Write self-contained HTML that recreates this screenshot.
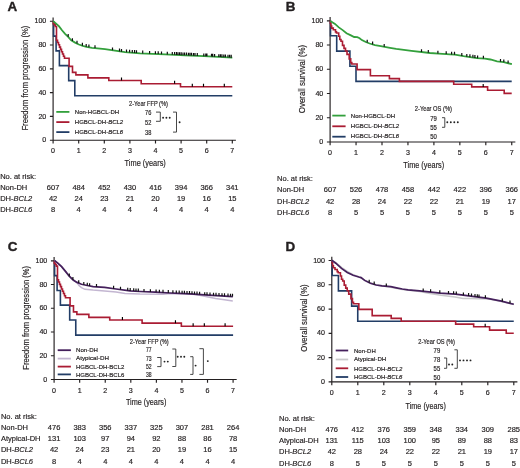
<!DOCTYPE html>
<html><head><meta charset="utf-8"><style>
html,body{margin:0;padding:0;background:#fff;width:520px;height:468px;overflow:hidden}
svg{display:block;will-change:transform}
</style></head><body>
<svg width="520" height="468" viewBox="0 0 520 468" font-family='"Liberation Sans", sans-serif' fill="#231f20" stroke-linejoin="round">
<style>text{stroke:#231f20;stroke-width:0.18px}</style>
<rect width="520" height="468" fill="#fff"/>
<text x="7.60" y="11.00" font-size="13.4" font-weight="bold" style="stroke-width:0.4px">A</text>
<text x="285.80" y="11.00" font-size="13.4" font-weight="bold" style="stroke-width:0.4px">B</text>
<text x="7.80" y="250.50" font-size="13.4" font-weight="bold" style="stroke-width:0.4px">C</text>
<text x="285.60" y="250.60" font-size="13.4" font-weight="bold" style="stroke-width:0.4px">D</text>
<path d="M53.10,17.50V140.20M49.90,140.20H235.90M49.90,140.20H53.10M49.90,116.40H53.10M49.90,92.60H53.10M49.90,68.80H53.10M49.90,45.00H53.10M49.90,21.20H53.10M53.10,140.20V143.50M78.70,140.20V143.50M104.30,140.20V143.50M129.90,140.20V143.50M155.50,140.20V143.50M181.10,140.20V143.50M206.70,140.20V143.50M232.30,140.20V143.50" stroke="#231f20" stroke-width="1.15" fill="none"/>
<text x="46.30" y="142.30" font-size="7.1" text-anchor="end">0</text>
<text x="46.30" y="118.50" font-size="7.1" text-anchor="end">20</text>
<text x="46.30" y="94.70" font-size="7.1" text-anchor="end">40</text>
<text x="46.30" y="70.90" font-size="7.1" text-anchor="end">60</text>
<text x="46.30" y="47.10" font-size="7.1" text-anchor="end">80</text>
<text x="46.30" y="23.30" font-size="7.1" text-anchor="end">100</text>
<text x="53.10" y="152.90" font-size="7.1" text-anchor="middle">0</text>
<text x="78.70" y="152.90" font-size="7.1" text-anchor="middle">1</text>
<text x="104.30" y="152.90" font-size="7.1" text-anchor="middle">2</text>
<text x="129.90" y="152.90" font-size="7.1" text-anchor="middle">3</text>
<text x="155.50" y="152.90" font-size="7.1" text-anchor="middle">4</text>
<text x="181.10" y="152.90" font-size="7.1" text-anchor="middle">5</text>
<text x="206.70" y="152.90" font-size="7.1" text-anchor="middle">6</text>
<text x="232.30" y="152.90" font-size="7.1" text-anchor="middle">7</text>
<path d="M330.10,17.10V142.00M326.90,142.00H515.35M326.90,142.00H330.10M326.90,117.76H330.10M326.90,93.52H330.10M326.90,69.28H330.10M326.90,45.04H330.10M326.90,20.80H330.10M330.10,142.00V145.30M356.05,142.00V145.30M382.00,142.00V145.30M407.95,142.00V145.30M433.90,142.00V145.30M459.85,142.00V145.30M485.80,142.00V145.30M511.75,142.00V145.30" stroke="#231f20" stroke-width="1.15" fill="none"/>
<text x="323.30" y="144.10" font-size="7.1" text-anchor="end">0</text>
<text x="323.30" y="119.86" font-size="7.1" text-anchor="end">20</text>
<text x="323.30" y="95.62" font-size="7.1" text-anchor="end">40</text>
<text x="323.30" y="71.38" font-size="7.1" text-anchor="end">60</text>
<text x="323.30" y="47.14" font-size="7.1" text-anchor="end">80</text>
<text x="323.30" y="22.90" font-size="7.1" text-anchor="end">100</text>
<text x="330.10" y="155.30" font-size="7.1" text-anchor="middle">0</text>
<text x="356.05" y="155.30" font-size="7.1" text-anchor="middle">1</text>
<text x="382.00" y="155.30" font-size="7.1" text-anchor="middle">2</text>
<text x="407.95" y="155.30" font-size="7.1" text-anchor="middle">3</text>
<text x="433.90" y="155.30" font-size="7.1" text-anchor="middle">4</text>
<text x="459.85" y="155.30" font-size="7.1" text-anchor="middle">5</text>
<text x="485.80" y="155.30" font-size="7.1" text-anchor="middle">6</text>
<text x="511.75" y="155.30" font-size="7.1" text-anchor="middle">7</text>
<path d="M54.10,257.10V379.50M50.90,379.50H236.69M50.90,379.50H54.10M50.90,355.76H54.10M50.90,332.02H54.10M50.90,308.28H54.10M50.90,284.54H54.10M50.90,260.80H54.10M54.10,379.50V382.80M79.67,379.50V382.80M105.24,379.50V382.80M130.81,379.50V382.80M156.38,379.50V382.80M181.95,379.50V382.80M207.52,379.50V382.80M233.09,379.50V382.80" stroke="#231f20" stroke-width="1.15" fill="none"/>
<text x="47.30" y="381.60" font-size="7.1" text-anchor="end">0</text>
<text x="47.30" y="357.86" font-size="7.1" text-anchor="end">20</text>
<text x="47.30" y="334.12" font-size="7.1" text-anchor="end">40</text>
<text x="47.30" y="310.38" font-size="7.1" text-anchor="end">60</text>
<text x="47.30" y="286.64" font-size="7.1" text-anchor="end">80</text>
<text x="47.30" y="262.90" font-size="7.1" text-anchor="end">100</text>
<text x="54.10" y="392.50" font-size="7.1" text-anchor="middle">0</text>
<text x="79.67" y="392.50" font-size="7.1" text-anchor="middle">1</text>
<text x="105.24" y="392.50" font-size="7.1" text-anchor="middle">2</text>
<text x="130.81" y="392.50" font-size="7.1" text-anchor="middle">3</text>
<text x="156.38" y="392.50" font-size="7.1" text-anchor="middle">4</text>
<text x="181.95" y="392.50" font-size="7.1" text-anchor="middle">5</text>
<text x="207.52" y="392.50" font-size="7.1" text-anchor="middle">6</text>
<text x="233.09" y="392.50" font-size="7.1" text-anchor="middle">7</text>
<path d="M331.80,256.80V381.90M328.60,381.90H517.40M328.60,381.90H331.80M328.60,357.62H331.80M328.60,333.34H331.80M328.60,309.06H331.80M328.60,284.78H331.80M328.60,260.50H331.80M331.80,381.90V385.20M357.80,381.90V385.20M383.80,381.90V385.20M409.80,381.90V385.20M435.80,381.90V385.20M461.80,381.90V385.20M487.80,381.90V385.20M513.80,381.90V385.20" stroke="#231f20" stroke-width="1.15" fill="none"/>
<text x="325.00" y="384.00" font-size="7.1" text-anchor="end">0</text>
<text x="325.00" y="359.72" font-size="7.1" text-anchor="end">20</text>
<text x="325.00" y="335.44" font-size="7.1" text-anchor="end">40</text>
<text x="325.00" y="311.16" font-size="7.1" text-anchor="end">60</text>
<text x="325.00" y="286.88" font-size="7.1" text-anchor="end">80</text>
<text x="325.00" y="262.60" font-size="7.1" text-anchor="end">100</text>
<text x="331.80" y="395.30" font-size="7.1" text-anchor="middle">0</text>
<text x="357.80" y="395.30" font-size="7.1" text-anchor="middle">1</text>
<text x="383.80" y="395.30" font-size="7.1" text-anchor="middle">2</text>
<text x="409.80" y="395.30" font-size="7.1" text-anchor="middle">3</text>
<text x="435.80" y="395.30" font-size="7.1" text-anchor="middle">4</text>
<text x="461.80" y="395.30" font-size="7.1" text-anchor="middle">5</text>
<text x="487.80" y="395.30" font-size="7.1" text-anchor="middle">6</text>
<text x="513.80" y="395.30" font-size="7.1" text-anchor="middle">7</text>
<text transform="translate(27.9,78.1) rotate(-90)" x="0" y="0" font-size="8.6" text-anchor="middle" textLength="105" lengthAdjust="spacingAndGlyphs">Freedom from progression (%)</text>
<text transform="translate(305.2,79.0) rotate(-90)" x="0" y="0" font-size="8.6" text-anchor="middle" textLength="68.3" lengthAdjust="spacingAndGlyphs">Overall survival (%)</text>
<text transform="translate(28.9,317.8) rotate(-90)" x="0" y="0" font-size="8.6" text-anchor="middle" textLength="103.8" lengthAdjust="spacingAndGlyphs">Freedom from progression (%)</text>
<text transform="translate(307.2,318.0) rotate(-90)" x="0" y="0" font-size="8.6" text-anchor="middle" textLength="67.3" lengthAdjust="spacingAndGlyphs">Overall survival (%)</text>
<text x="124.60" y="166.20" font-size="8.8" textLength="41.2" lengthAdjust="spacingAndGlyphs">Time (years)</text>
<text x="403.30" y="168.00" font-size="8.8" textLength="40.9" lengthAdjust="spacingAndGlyphs">Time (years)</text>
<text x="125.90" y="405.30" font-size="8.8" textLength="40.5" lengthAdjust="spacingAndGlyphs">Time (years)</text>
<text x="405.60" y="408.50" font-size="8.8" textLength="40.3" lengthAdjust="spacingAndGlyphs">Time (years)</text>
<text x="0.20" y="178.80" font-size="7.5">No. at risk:</text>
<text x="0.20" y="190.00" font-size="7.5">Non-DH</text>
<text x="53.10" y="190.00" font-size="7.5" text-anchor="middle">607</text>
<text x="78.70" y="190.00" font-size="7.5" text-anchor="middle">484</text>
<text x="104.30" y="190.00" font-size="7.5" text-anchor="middle">452</text>
<text x="129.90" y="190.00" font-size="7.5" text-anchor="middle">430</text>
<text x="155.50" y="190.00" font-size="7.5" text-anchor="middle">416</text>
<text x="181.10" y="190.00" font-size="7.5" text-anchor="middle">394</text>
<text x="206.70" y="190.00" font-size="7.5" text-anchor="middle">366</text>
<text x="232.30" y="190.00" font-size="7.5" text-anchor="middle">341</text>
<text x="0.20" y="201.20" font-size="7.5">DH-<tspan font-style="italic">BCL2</tspan></text>
<text x="53.10" y="201.20" font-size="7.5" text-anchor="middle">42</text>
<text x="78.70" y="201.20" font-size="7.5" text-anchor="middle">24</text>
<text x="104.30" y="201.20" font-size="7.5" text-anchor="middle">23</text>
<text x="129.90" y="201.20" font-size="7.5" text-anchor="middle">21</text>
<text x="155.50" y="201.20" font-size="7.5" text-anchor="middle">20</text>
<text x="181.10" y="201.20" font-size="7.5" text-anchor="middle">19</text>
<text x="206.70" y="201.20" font-size="7.5" text-anchor="middle">16</text>
<text x="232.30" y="201.20" font-size="7.5" text-anchor="middle">15</text>
<text x="0.20" y="212.40" font-size="7.5">DH-<tspan font-style="italic">BCL6</tspan></text>
<text x="53.10" y="212.40" font-size="7.5" text-anchor="middle">8</text>
<text x="78.70" y="212.40" font-size="7.5" text-anchor="middle">4</text>
<text x="104.30" y="212.40" font-size="7.5" text-anchor="middle">4</text>
<text x="129.90" y="212.40" font-size="7.5" text-anchor="middle">4</text>
<text x="155.50" y="212.40" font-size="7.5" text-anchor="middle">4</text>
<text x="181.10" y="212.40" font-size="7.5" text-anchor="middle">4</text>
<text x="206.70" y="212.40" font-size="7.5" text-anchor="middle">4</text>
<text x="232.30" y="212.40" font-size="7.5" text-anchor="middle">4</text>
<text x="277.10" y="180.90" font-size="7.5">No. at risk:</text>
<text x="277.10" y="192.20" font-size="7.5">Non-DH</text>
<text x="330.10" y="192.20" font-size="7.5" text-anchor="middle">607</text>
<text x="356.05" y="192.20" font-size="7.5" text-anchor="middle">526</text>
<text x="382.00" y="192.20" font-size="7.5" text-anchor="middle">478</text>
<text x="407.95" y="192.20" font-size="7.5" text-anchor="middle">458</text>
<text x="433.90" y="192.20" font-size="7.5" text-anchor="middle">442</text>
<text x="459.85" y="192.20" font-size="7.5" text-anchor="middle">422</text>
<text x="485.80" y="192.20" font-size="7.5" text-anchor="middle">396</text>
<text x="511.75" y="192.20" font-size="7.5" text-anchor="middle">366</text>
<text x="277.10" y="203.50" font-size="7.5">DH-<tspan font-style="italic">BCL2</tspan></text>
<text x="330.10" y="203.50" font-size="7.5" text-anchor="middle">42</text>
<text x="356.05" y="203.50" font-size="7.5" text-anchor="middle">28</text>
<text x="382.00" y="203.50" font-size="7.5" text-anchor="middle">24</text>
<text x="407.95" y="203.50" font-size="7.5" text-anchor="middle">22</text>
<text x="433.90" y="203.50" font-size="7.5" text-anchor="middle">22</text>
<text x="459.85" y="203.50" font-size="7.5" text-anchor="middle">21</text>
<text x="485.80" y="203.50" font-size="7.5" text-anchor="middle">19</text>
<text x="511.75" y="203.50" font-size="7.5" text-anchor="middle">17</text>
<text x="277.10" y="214.80" font-size="7.5">DH-<tspan font-style="italic">BCL6</tspan></text>
<text x="330.10" y="214.80" font-size="7.5" text-anchor="middle">8</text>
<text x="356.05" y="214.80" font-size="7.5" text-anchor="middle">5</text>
<text x="382.00" y="214.80" font-size="7.5" text-anchor="middle">5</text>
<text x="407.95" y="214.80" font-size="7.5" text-anchor="middle">5</text>
<text x="433.90" y="214.80" font-size="7.5" text-anchor="middle">5</text>
<text x="459.85" y="214.80" font-size="7.5" text-anchor="middle">5</text>
<text x="485.80" y="214.80" font-size="7.5" text-anchor="middle">5</text>
<text x="511.75" y="214.80" font-size="7.5" text-anchor="middle">5</text>
<text x="0.90" y="418.50" font-size="7.5">No. at risk:</text>
<text x="0.90" y="429.80" font-size="7.5">Non-DH</text>
<text x="54.10" y="429.80" font-size="7.5" text-anchor="middle">476</text>
<text x="79.67" y="429.80" font-size="7.5" text-anchor="middle">383</text>
<text x="105.24" y="429.80" font-size="7.5" text-anchor="middle">356</text>
<text x="130.81" y="429.80" font-size="7.5" text-anchor="middle">337</text>
<text x="156.38" y="429.80" font-size="7.5" text-anchor="middle">325</text>
<text x="181.95" y="429.80" font-size="7.5" text-anchor="middle">307</text>
<text x="207.52" y="429.80" font-size="7.5" text-anchor="middle">281</text>
<text x="233.09" y="429.80" font-size="7.5" text-anchor="middle">264</text>
<text x="0.90" y="441.10" font-size="7.5">Atypical-DH</text>
<text x="54.10" y="441.10" font-size="7.5" text-anchor="middle">131</text>
<text x="79.67" y="441.10" font-size="7.5" text-anchor="middle">103</text>
<text x="105.24" y="441.10" font-size="7.5" text-anchor="middle">97</text>
<text x="130.81" y="441.10" font-size="7.5" text-anchor="middle">94</text>
<text x="156.38" y="441.10" font-size="7.5" text-anchor="middle">92</text>
<text x="181.95" y="441.10" font-size="7.5" text-anchor="middle">88</text>
<text x="207.52" y="441.10" font-size="7.5" text-anchor="middle">86</text>
<text x="233.09" y="441.10" font-size="7.5" text-anchor="middle">78</text>
<text x="0.90" y="452.30" font-size="7.5">DH-<tspan font-style="italic">BCL2</tspan></text>
<text x="54.10" y="452.30" font-size="7.5" text-anchor="middle">42</text>
<text x="79.67" y="452.30" font-size="7.5" text-anchor="middle">24</text>
<text x="105.24" y="452.30" font-size="7.5" text-anchor="middle">23</text>
<text x="130.81" y="452.30" font-size="7.5" text-anchor="middle">21</text>
<text x="156.38" y="452.30" font-size="7.5" text-anchor="middle">20</text>
<text x="181.95" y="452.30" font-size="7.5" text-anchor="middle">19</text>
<text x="207.52" y="452.30" font-size="7.5" text-anchor="middle">16</text>
<text x="233.09" y="452.30" font-size="7.5" text-anchor="middle">15</text>
<text x="0.90" y="463.60" font-size="7.5">DH-<tspan font-style="italic">BCL6</tspan></text>
<text x="54.10" y="463.60" font-size="7.5" text-anchor="middle">8</text>
<text x="79.67" y="463.60" font-size="7.5" text-anchor="middle">4</text>
<text x="105.24" y="463.60" font-size="7.5" text-anchor="middle">4</text>
<text x="130.81" y="463.60" font-size="7.5" text-anchor="middle">4</text>
<text x="156.38" y="463.60" font-size="7.5" text-anchor="middle">4</text>
<text x="181.95" y="463.60" font-size="7.5" text-anchor="middle">4</text>
<text x="207.52" y="463.60" font-size="7.5" text-anchor="middle">4</text>
<text x="233.09" y="463.60" font-size="7.5" text-anchor="middle">4</text>
<text x="279.00" y="421.00" font-size="7.5">No. at risk:</text>
<text x="279.00" y="432.20" font-size="7.5">Non-DH</text>
<text x="331.80" y="432.20" font-size="7.5" text-anchor="middle">476</text>
<text x="357.80" y="432.20" font-size="7.5" text-anchor="middle">412</text>
<text x="383.80" y="432.20" font-size="7.5" text-anchor="middle">376</text>
<text x="409.80" y="432.20" font-size="7.5" text-anchor="middle">359</text>
<text x="435.80" y="432.20" font-size="7.5" text-anchor="middle">348</text>
<text x="461.80" y="432.20" font-size="7.5" text-anchor="middle">334</text>
<text x="487.80" y="432.20" font-size="7.5" text-anchor="middle">309</text>
<text x="513.80" y="432.20" font-size="7.5" text-anchor="middle">285</text>
<text x="279.00" y="443.10" font-size="7.5">Atypical-DH</text>
<text x="331.80" y="443.10" font-size="7.5" text-anchor="middle">131</text>
<text x="357.80" y="443.10" font-size="7.5" text-anchor="middle">115</text>
<text x="383.80" y="443.10" font-size="7.5" text-anchor="middle">103</text>
<text x="409.80" y="443.10" font-size="7.5" text-anchor="middle">100</text>
<text x="435.80" y="443.10" font-size="7.5" text-anchor="middle">95</text>
<text x="461.80" y="443.10" font-size="7.5" text-anchor="middle">89</text>
<text x="487.80" y="443.10" font-size="7.5" text-anchor="middle">88</text>
<text x="513.80" y="443.10" font-size="7.5" text-anchor="middle">83</text>
<text x="279.00" y="454.30" font-size="7.5">DH-<tspan font-style="italic">BCL2</tspan></text>
<text x="331.80" y="454.30" font-size="7.5" text-anchor="middle">42</text>
<text x="357.80" y="454.30" font-size="7.5" text-anchor="middle">28</text>
<text x="383.80" y="454.30" font-size="7.5" text-anchor="middle">24</text>
<text x="409.80" y="454.30" font-size="7.5" text-anchor="middle">22</text>
<text x="435.80" y="454.30" font-size="7.5" text-anchor="middle">22</text>
<text x="461.80" y="454.30" font-size="7.5" text-anchor="middle">21</text>
<text x="487.80" y="454.30" font-size="7.5" text-anchor="middle">19</text>
<text x="513.80" y="454.30" font-size="7.5" text-anchor="middle">17</text>
<text x="279.00" y="465.70" font-size="7.5">DH-<tspan font-style="italic">BCL6</tspan></text>
<text x="331.80" y="465.70" font-size="7.5" text-anchor="middle">8</text>
<text x="357.80" y="465.70" font-size="7.5" text-anchor="middle">5</text>
<text x="383.80" y="465.70" font-size="7.5" text-anchor="middle">5</text>
<text x="409.80" y="465.70" font-size="7.5" text-anchor="middle">5</text>
<text x="435.80" y="465.70" font-size="7.5" text-anchor="middle">5</text>
<text x="461.80" y="465.70" font-size="7.5" text-anchor="middle">5</text>
<text x="487.80" y="465.70" font-size="7.5" text-anchor="middle">5</text>
<text x="513.80" y="465.70" font-size="7.5" text-anchor="middle">5</text>
<path d="M53.60,21.20L53.60,36.10L56.10,36.10L56.10,50.90L59.40,50.90L59.40,65.60L68.70,65.60L68.70,80.60L74.80,80.60L74.80,95.70L232.30,95.70" stroke="#223d66" stroke-width="1.6" fill="none" stroke-linejoin="miter" stroke-linecap="butt"/>
<path d="M53.30,21.20L53.30,23.60L54.30,23.60L54.30,24.90L55.30,24.90L55.30,26.50L56.50,26.50L56.50,40.20L57.50,40.20L57.50,42.50L58.50,42.50L58.50,44.80L59.50,44.80L59.50,47.10L60.50,47.10L60.50,49.40L61.50,49.40L61.50,51.70L62.50,51.70L62.50,54.00L63.50,54.00L63.50,56.20L64.50,56.20L64.50,58.20L69.10,58.20L69.10,66.40L72.50,66.40L72.50,72.40L75.90,72.40L75.90,74.90L87.90,74.90L87.90,77.90L108.80,77.90L108.80,80.50L141.20,80.50L141.20,83.70L180.50,83.70L180.50,86.80L232.30,86.80" stroke="#aa1c33" stroke-width="1.6" fill="none" stroke-linejoin="miter" stroke-linecap="butt"/>
<path d="M121.50,80.50V77.50M174.60,83.70V80.70M192.30,86.80V83.80M203.50,86.80V83.80M224.30,86.80V83.80" stroke="#000" stroke-width="1.15" fill="none"/>
<path d="M53.20,21.10L55.80,23.40L58.90,26.10L62.00,30.30L65.10,33.80L68.20,36.80L71.20,40.30L75.10,42.60L78.90,44.50L82.80,45.80L86.60,46.80L92.00,47.80L95.00,48.10L105.00,49.20L115.00,50.70L125.00,52.20L140.00,53.30L165.00,54.40L185.00,55.30L204.00,56.20L232.30,57.70" stroke="#33a03c" stroke-width="1.8" fill="none" stroke-linejoin="miter" stroke-linecap="butt"/>
<path d="M68.20,36.80V34.00M72.40,41.01V38.21M77.00,43.55V40.75M82.40,45.67V42.87M86.20,46.69V43.89M88.90,47.23V44.43M95.00,48.10V45.30M112.50,50.33V47.53M119.50,51.38V48.58M121.50,51.68V48.88M126.50,52.31V49.51M129.60,52.54V49.74M132.30,52.74V49.94M134.60,52.90V50.10M136.50,53.04V50.24M142.70,53.42V50.62M149.60,53.72V50.92M155.40,53.98V51.18M158.20,54.10V51.30M161.50,54.25V51.45M167.30,54.50V51.70M172.30,54.73V51.93M174.60,54.83V52.03M176.50,54.92V52.12M178.00,54.98V52.19M179.60,55.06V52.26M181.20,55.13V52.33M183.00,55.21V52.41M184.60,55.28V52.48M186.50,55.37V52.57M188.50,55.47V52.67M190.00,55.54V52.74M191.50,55.61V52.81M193.50,55.70V52.90M195.00,55.77V52.97M197.30,55.88V53.08M203.80,56.19V53.39M205.80,56.30V53.50M206.90,56.35V53.55M211.50,56.60V53.80M212.70,56.66V53.86M214.60,56.76V53.96M218.80,56.98V54.18M220.40,57.07V54.27M221.90,57.15V54.35M223.80,57.25V54.45M225.40,57.33V54.53M228.00,57.47V54.67M229.60,57.56V54.76M231.20,57.64V54.84" stroke="#111" stroke-width="1.2" fill="none"/>
<path d="M330.50,20.80L330.50,35.80L336.70,35.80L336.70,51.10L349.90,51.10L349.90,66.30L356.00,66.30L356.00,81.40L511.70,81.40" stroke="#223d66" stroke-width="1.6" fill="none" stroke-linejoin="miter" stroke-linecap="butt"/>
<path d="M330.40,20.80L330.40,23.20L330.90,23.20L330.90,26.00L331.70,26.00L331.70,28.10L333.30,28.10L333.30,29.80L335.50,29.80L335.50,31.90L336.50,31.90L336.50,33.00L338.70,33.00L338.70,36.20L339.80,36.20L339.80,39.50L341.00,39.50L341.00,41.30L342.50,41.30L342.50,45.40L344.00,45.40L344.00,48.40L345.50,48.40L345.50,51.00L347.00,51.00L347.00,54.40L349.20,54.40L349.20,58.90L350.70,58.90L350.70,62.60L351.80,62.60L351.80,64.00L352.90,64.00L357.10,64.00L357.10,69.60L370.40,69.60L370.40,75.80L389.40,75.80L389.40,78.60L399.40,78.60L399.40,81.40L453.70,81.40L453.70,84.30L471.70,84.30L471.70,86.90L487.60,86.90L487.60,90.30L504.20,90.30L504.20,93.40L511.70,93.40" stroke="#aa1c33" stroke-width="1.6" fill="none" stroke-linejoin="miter" stroke-linecap="butt"/>
<path d="M483.20,86.90V83.90" stroke="#000" stroke-width="1.15" fill="none"/>
<path d="M330.30,20.90L335.00,23.90L338.80,27.40L342.70,30.10L346.50,33.20L350.40,35.10L354.20,37.00L357.30,37.20L359.60,38.20L361.90,40.10L365.80,42.00L369.60,43.50L375.00,45.10L380.80,46.20L390.00,47.80L396.20,48.80L411.50,50.80L430.00,53.00L438.80,53.60L450.00,54.30L455.00,54.70L463.50,56.20L476.90,58.20L485.00,58.60L490.40,59.50L497.10,61.30L503.80,62.20L511.90,64.20" stroke="#33a03c" stroke-width="1.8" fill="none" stroke-linejoin="miter" stroke-linecap="butt"/>
<path d="M367.20,42.55V39.75M372.60,44.39V41.59M384.20,46.79V43.99M421.50,51.99V49.19M428.30,52.80V50.00M437.90,53.54V50.74M446.20,54.06V51.26M451.60,54.43V51.63M454.50,54.66V51.86M461.80,55.90V53.10M466.80,56.69V53.89M469.90,57.16V54.36M472.90,57.60V54.80M474.90,57.90V55.10M477.60,58.23V55.43M483.40,58.52V55.72M500.50,61.76V58.96M503.80,62.20V59.40M508.10,63.26V60.46" stroke="#111" stroke-width="1.2" fill="none"/>
<path d="M54.60,260.80L54.60,275.66L57.10,275.66L57.10,290.43L60.39,290.43L60.39,305.09L69.68,305.09L69.68,320.05L75.77,320.05L75.77,335.11L233.09,335.11" stroke="#223d66" stroke-width="1.6" fill="none" stroke-linejoin="miter" stroke-linecap="butt"/>
<path d="M54.30,260.80L54.30,263.19L55.30,263.19L55.30,264.49L56.30,264.49L56.30,266.09L57.50,266.09L57.50,279.75L58.49,279.75L58.49,282.05L59.49,282.05L59.49,284.34L60.49,284.34L60.49,286.63L61.49,286.63L61.49,288.93L62.49,288.93L62.49,291.22L63.49,291.22L63.49,293.52L64.49,293.52L64.49,295.71L65.49,295.71L65.49,297.71L70.08,297.71L70.08,305.89L73.48,305.89L73.48,311.87L76.87,311.87L76.87,314.36L88.86,314.36L88.86,317.36L109.73,317.36L109.73,319.95L142.10,319.95L142.10,323.14L181.35,323.14L181.35,326.23L233.09,326.23" stroke="#aa1c33" stroke-width="1.6" fill="none" stroke-linejoin="miter" stroke-linecap="butt"/>
<path d="M122.42,319.95V316.95M175.46,323.14V320.14M193.14,326.23V323.23M204.32,326.23V323.23M225.10,326.23V323.23" stroke="#000" stroke-width="1.15" fill="none"/>
<path d="M54.40,260.30L57.80,263.20L61.60,266.60L65.50,271.40L69.30,276.20L73.20,280.00L77.00,282.60L79.00,285.60L81.50,287.60L85.00,289.30L93.10,290.10L104.60,290.90L116.10,292.10L125.00,293.40L140.00,294.10L163.00,294.20L170.00,293.50L185.00,293.80L195.00,294.40L201.00,295.40L208.30,297.00L215.50,298.50L222.70,299.50L232.80,300.90" stroke="#c3b6d1" stroke-width="1.5" fill="none" stroke-linejoin="miter" stroke-linecap="butt"/>
<path d="M54.40,260.30L57.80,263.20L61.60,266.60L65.50,271.40L69.30,276.20L73.20,280.00L77.00,282.40L81.50,284.30L87.30,285.50L93.10,286.60L104.60,287.40L116.10,289.00L130.00,290.90L140.00,291.50L155.00,292.20L170.00,293.00L185.00,293.60L193.90,294.20L208.30,295.20L232.80,296.60" stroke="#45205c" stroke-width="1.7" fill="none" stroke-linejoin="miter" stroke-linecap="butt"/>
<path d="M69.30,276.20V273.40M72.90,279.71V276.91M78.70,283.12V280.32M83.80,284.78V281.98M87.30,285.50V282.70M89.60,285.94V283.14M96.50,286.84V284.04M113.60,288.65V285.85M120.50,289.60V286.80M127.70,290.59V287.79M130.20,290.91V288.11M133.70,291.12V288.32M136.00,291.26V288.46M138.30,291.40V288.60M144.00,291.69V288.89M150.40,291.99V289.19M156.10,292.26V289.46M159.40,292.43V289.63M163.00,292.63V289.83M168.30,292.91V290.11M172.90,293.12V290.32M176.30,293.25V290.45M179.20,293.37V290.57M182.10,293.48V290.68M184.40,293.58V290.78M187.00,293.73V290.93M189.50,293.90V291.10M192.00,294.07V291.27M194.50,294.24V291.44M197.00,294.42V291.62M199.60,294.60V291.80M204.70,294.95V292.15M207.00,295.11V292.31M210.00,295.30V292.50M213.50,295.50V292.70M216.00,295.64V292.84M219.00,295.81V293.01M222.00,295.98V293.18M224.50,296.13V293.33M228.00,296.33V293.53M230.50,296.47V293.67M232.50,296.58V293.78" stroke="#111" stroke-width="1.2" fill="none"/>
<path d="M332.20,260.50L332.20,275.52L338.41,275.52L338.41,290.85L351.64,290.85L351.64,306.08L357.75,306.08L357.75,321.20L513.75,321.20" stroke="#223d66" stroke-width="1.6" fill="none" stroke-linejoin="miter" stroke-linecap="butt"/>
<path d="M332.10,260.50L332.10,262.90L332.60,262.90L332.60,265.71L333.40,265.71L333.40,267.81L335.01,267.81L335.01,269.51L337.21,269.51L337.21,271.62L338.21,271.62L338.21,272.72L340.42,272.72L340.42,275.93L341.52,275.93L341.52,279.23L342.72,279.23L342.72,281.03L344.22,281.03L344.22,285.14L345.73,285.14L345.73,288.15L347.23,288.15L347.23,290.75L348.73,290.75L348.73,294.16L350.94,294.16L350.94,298.66L352.44,298.66L352.44,302.37L353.54,302.37L353.54,303.77L354.64,303.77L358.85,303.77L358.85,309.38L372.18,309.38L372.18,315.59L391.21,315.59L391.21,318.40L401.23,318.40L401.23,321.20L455.64,321.20L455.64,324.10L473.67,324.10L473.67,326.71L489.60,326.71L489.60,330.11L506.24,330.11L506.24,333.22L513.75,333.22" stroke="#aa1c33" stroke-width="1.6" fill="none" stroke-linejoin="miter" stroke-linecap="butt"/>
<path d="M485.19,326.71V323.71" stroke="#000" stroke-width="1.15" fill="none"/>
<path d="M331.80,260.30L335.80,262.60L341.50,267.30L347.30,271.30L353.10,274.60L358.80,276.80L364.60,279.90L370.40,282.80L376.10,284.80L390.80,287.20L402.30,289.60L419.60,291.60L430.00,293.40L441.00,295.30L455.00,297.00L463.00,298.40L470.00,298.60L478.00,298.80L489.00,299.00L501.50,301.40L513.80,304.50" stroke="#c9c9cb" stroke-width="1.5" fill="none" stroke-linejoin="miter" stroke-linecap="butt"/>
<path d="M331.80,260.30L335.80,263.20L341.50,268.40L347.30,272.40L353.10,275.30L358.80,277.00L361.10,277.60L364.60,280.40L370.40,283.20L376.10,285.00L381.90,285.90L385.00,286.20L390.80,286.70L396.50,287.80L402.30,289.00L408.10,289.80L419.60,290.90L431.10,292.10L440.00,293.10L455.40,294.20L470.80,296.20L486.20,298.20L493.80,299.70L501.50,301.20L513.80,304.30" stroke="#45205c" stroke-width="1.7" fill="none" stroke-linejoin="miter" stroke-linecap="butt"/>
<path d="M369.20,282.62V279.82M374.20,284.40V281.60M386.30,286.31V283.51M423.20,291.28V288.48M430.60,292.05V289.25M439.80,293.08V290.28M448.50,293.71V290.91M453.60,294.07V291.27M456.30,294.32V291.52M463.40,295.24V292.44M468.60,295.91V293.11M471.50,296.29V293.49M475.00,296.75V293.95M477.30,297.04V294.24M479.00,297.26V294.46M485.40,298.10V295.30M502.30,301.40V298.60M510.00,303.34V300.54" stroke="#111" stroke-width="1.2" fill="none"/>
<text x="129.00" y="106.20" font-size="6.5" textLength="38.9" lengthAdjust="spacingAndGlyphs">2-Year FFP (%)</text>
<path d="M56.3,111.9H69.4" stroke="#33a03c" stroke-width="1.8"/>
<text x="74.80" y="114.00" font-size="6.0">Non-HGBCL-DH</text>
<text x="145.10" y="114.90" font-size="6.8" textLength="6.3" lengthAdjust="spacingAndGlyphs">76</text>
<path d="M56.3,122.1H69.4" stroke="#aa1c33" stroke-width="1.8"/>
<text x="74.80" y="124.10" font-size="6.0">HGBCL-DH-<tspan font-style="italic">BCL2</tspan></text>
<text x="145.10" y="124.70" font-size="6.8" textLength="6.3" lengthAdjust="spacingAndGlyphs">52</text>
<path d="M56.3,132.1H69.4" stroke="#223d66" stroke-width="1.8"/>
<text x="74.80" y="134.40" font-size="6.0">HGBCL-DH-<tspan font-style="italic">BCL6</tspan></text>
<text x="145.10" y="134.80" font-size="6.8" textLength="6.3" lengthAdjust="spacingAndGlyphs">38</text>
<path d="M156,112.1H160.3V121.3H156" stroke="#333" stroke-width="0.9" fill="none"/>
<circle cx="163.10" cy="117.7" r="0.95" fill="#222"/>
<circle cx="166.40" cy="117.7" r="0.95" fill="#222"/>
<circle cx="169.70" cy="117.7" r="0.95" fill="#222"/>
<path d="M173,112.1H176.5V132.1H173" stroke="#333" stroke-width="0.9" fill="none"/>
<circle cx="179.60" cy="122.3" r="0.95" fill="#222"/>
<text x="414.80" y="111.00" font-size="6.5" textLength="37.1" lengthAdjust="spacingAndGlyphs">2-Year OS (%)</text>
<path d="M332.3,115.6H345.6" stroke="#33a03c" stroke-width="1.8"/>
<text x="350.80" y="117.80" font-size="6.0">Non-HGBCL-DH</text>
<text x="430.20" y="120.80" font-size="6.8" textLength="6.6" lengthAdjust="spacingAndGlyphs">79</text>
<path d="M332.3,126.3H345.6" stroke="#aa1c33" stroke-width="1.8"/>
<text x="350.80" y="127.70" font-size="6.0">HGBCL-DH-<tspan font-style="italic">BCL2</tspan></text>
<text x="430.20" y="129.80" font-size="6.8" textLength="6.6" lengthAdjust="spacingAndGlyphs">55</text>
<path d="M332.3,136.7H345.6" stroke="#223d66" stroke-width="1.8"/>
<text x="350.80" y="138.20" font-size="6.0">HGBCL-DH-<tspan font-style="italic">BCL6</tspan></text>
<text x="430.20" y="138.80" font-size="6.8" textLength="6.6" lengthAdjust="spacingAndGlyphs">50</text>
<path d="M442,117.7H444.8V127.3H442" stroke="#333" stroke-width="0.9" fill="none"/>
<circle cx="447.30" cy="122.2" r="0.95" fill="#222"/>
<circle cx="450.80" cy="122.2" r="0.95" fill="#222"/>
<circle cx="454.30" cy="122.2" r="0.95" fill="#222"/>
<circle cx="457.80" cy="122.2" r="0.95" fill="#222"/>
<text x="129.80" y="344.10" font-size="6.5" textLength="38.9" lengthAdjust="spacingAndGlyphs">2-Year FFP (%)</text>
<path d="M57.7,350.2H70.9" stroke="#45205c" stroke-width="1.8"/>
<text x="76.00" y="351.90" font-size="6.0" textLength="22.0" lengthAdjust="spacingAndGlyphs">Non-DH</text>
<text x="146.00" y="352.30" font-size="6.8" textLength="5.6" lengthAdjust="spacingAndGlyphs">77</text>
<path d="M57.7,358.6H70.9" stroke="#c3b6d1" stroke-width="1.8"/>
<text x="76.00" y="359.80" font-size="6.0" textLength="33.0" lengthAdjust="spacingAndGlyphs">Atypical-DH</text>
<text x="146.00" y="361.00" font-size="6.8" textLength="5.6" lengthAdjust="spacingAndGlyphs">73</text>
<path d="M57.7,366.6H70.9" stroke="#aa1c33" stroke-width="1.8"/>
<text x="76.00" y="368.50" font-size="6.0">HGBCL-DH-BCL2</text>
<text x="146.00" y="368.70" font-size="6.8" textLength="5.6" lengthAdjust="spacingAndGlyphs">52</text>
<path d="M57.7,374.4H70.9" stroke="#223d66" stroke-width="1.8"/>
<text x="76.00" y="376.50" font-size="6.0">HGBCL-DH-BCL6</text>
<text x="146.00" y="377.30" font-size="6.8" textLength="5.6" lengthAdjust="spacingAndGlyphs">38</text>
<path d="M157.2,357.5H161.0V366.6H157.2" stroke="#333" stroke-width="0.9" fill="none"/>
<circle cx="164.50" cy="361.6" r="0.95" fill="#222"/>
<circle cx="167.80" cy="361.6" r="0.95" fill="#222"/>
<path d="M172.3,349.0H175.8V366.5H172.3" stroke="#333" stroke-width="0.9" fill="none"/>
<circle cx="177.70" cy="356.7" r="0.95" fill="#222"/>
<circle cx="181.00" cy="356.7" r="0.95" fill="#222"/>
<circle cx="184.30" cy="356.7" r="0.95" fill="#222"/>
<path d="M190.2,356.7H193.0V374.4H190.2" stroke="#333" stroke-width="0.9" fill="none"/>
<circle cx="195.60" cy="365.6" r="0.95" fill="#222"/>
<path d="M199.4,348.7H203.4V374.4H199.4" stroke="#333" stroke-width="0.9" fill="none"/>
<circle cx="207.80" cy="361.1" r="0.95" fill="#222"/>
<text x="418.30" y="344.40" font-size="6.5" textLength="36.7" lengthAdjust="spacingAndGlyphs">2-Year OS (%)</text>
<path d="M335.7,350.5H348.2" stroke="#45205c" stroke-width="1.8"/>
<text x="354.00" y="352.80" font-size="6.0" textLength="21.8" lengthAdjust="spacingAndGlyphs">Non-DH</text>
<text x="433.60" y="352.90" font-size="6.8" textLength="6.6" lengthAdjust="spacingAndGlyphs">79</text>
<path d="M335.7,359.5H348.2" stroke="#c9c9cb" stroke-width="1.8"/>
<text x="354.00" y="361.20" font-size="6.0" textLength="32.2" lengthAdjust="spacingAndGlyphs">Atypical-DH</text>
<text x="433.60" y="361.90" font-size="6.8" textLength="6.6" lengthAdjust="spacingAndGlyphs">78</text>
<path d="M335.7,368.3H348.2" stroke="#aa1c33" stroke-width="1.8"/>
<text x="354.00" y="370.70" font-size="6.0">HGBCL-DH-<tspan font-style="italic">BCL2</tspan></text>
<text x="433.60" y="371.10" font-size="6.8" textLength="6.6" lengthAdjust="spacingAndGlyphs">55</text>
<path d="M335.7,377.0H348.2" stroke="#223d66" stroke-width="1.8"/>
<text x="354.00" y="379.30" font-size="6.0">HGBCL-DH-<tspan font-style="italic">BCL6</tspan></text>
<text x="433.60" y="379.80" font-size="6.8" textLength="6.6" lengthAdjust="spacingAndGlyphs">50</text>
<path d="M444,358.0H446.7V368.3H444" stroke="#333" stroke-width="0.9" fill="none"/>
<circle cx="449.00" cy="364.5" r="0.95" fill="#222"/>
<circle cx="452.30" cy="364.5" r="0.95" fill="#222"/>
<path d="M454.4,349.8H457.3V368.3H454.4" stroke="#333" stroke-width="0.9" fill="none"/>
<circle cx="460.00" cy="360.4" r="0.95" fill="#222"/>
<circle cx="463.50" cy="360.4" r="0.95" fill="#222"/>
<circle cx="467.00" cy="360.4" r="0.95" fill="#222"/>
<circle cx="470.50" cy="360.4" r="0.95" fill="#222"/>
</svg>
</body></html>
